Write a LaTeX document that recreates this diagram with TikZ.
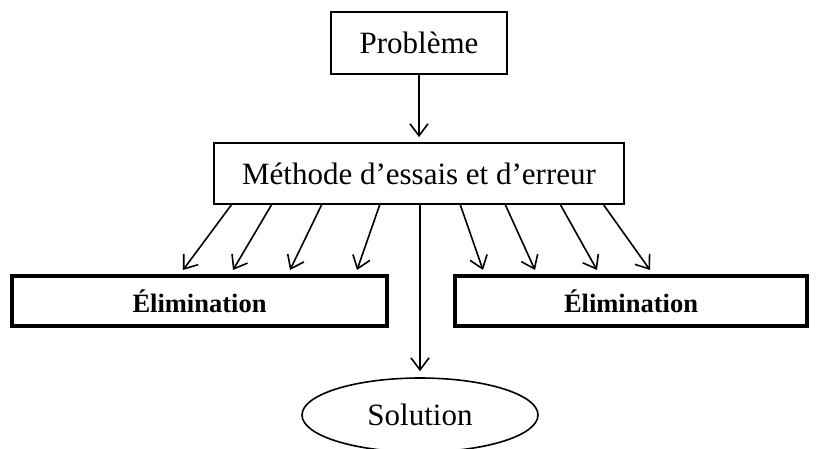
\documentclass[tikz,border=0pt]{standalone}
\usepackage{fontspec}
\setmainfont{Liberation Serif}
\usetikzlibrary{arrows.meta,shapes.geometric}
\begin{document}
\begin{tikzpicture}[x=1pt,y=-1pt,
  box/.style={draw,line width=1.8pt,rectangle,inner sep=0pt,font=\fontsize{31}{36}\selectfont},
  elim/.style={draw,line width=3.5pt,rectangle,inner sep=0pt,font=\fontsize{26.5}{30}\selectfont\bfseries},
  arr/.style={line width=1.6pt,-{Straight Barb[length=12pt,width=18pt,line width=1.6pt]}}]
\useasboundingbox (0,0) rectangle (819,448);
\begin{scope}
\clip (0,0) rectangle (819,448);
\node[box,minimum width=176pt,minimum height=62pt] (prob) at (419,43) {Problème};
\node[box,minimum width=410pt,minimum height=61pt] (meth) at (419,173.5) {Méthode d’essais et d’erreur};
\node[elim,minimum width=375pt,minimum height=50pt] (el) at (199.5,301) {Élimination};
\node[elim,minimum width=352pt,minimum height=50pt] (er) at (631,301) {Élimination};
\node[draw,ellipse,line width=1.6pt,minimum width=236pt,minimum height=74pt,inner sep=0pt,font=\fontsize{31}{36}\selectfont] (sol) at (420,415) {Solution};
\draw[arr,shorten >=5pt] (prob) -- (meth);
\draw[arr,shorten >=6pt] (meth.south -| sol.north) -- (sol.north);
\coordinate (s1) at (232,204); \coordinate (e1) at (183,270);
\coordinate (s2) at (272,204); \coordinate (e2) at (233,270);
\coordinate (s3) at (322,204); \coordinate (e3) at (290,270);
\coordinate (s4) at (380,204); \coordinate (e4) at (357,270);
\coordinate (s5) at (460,204); \coordinate (e5) at (483,270);
\coordinate (s6) at (505,204); \coordinate (e6) at (535,270);
\coordinate (s7) at (560,204); \coordinate (e7) at (597,270);
\coordinate (s8) at (603,204); \coordinate (e8) at (650,270);
\foreach \i in {1,...,8} {\draw[arr] (s\i) -- (e\i);}
\end{scope}
\end{tikzpicture}
\end{document}
